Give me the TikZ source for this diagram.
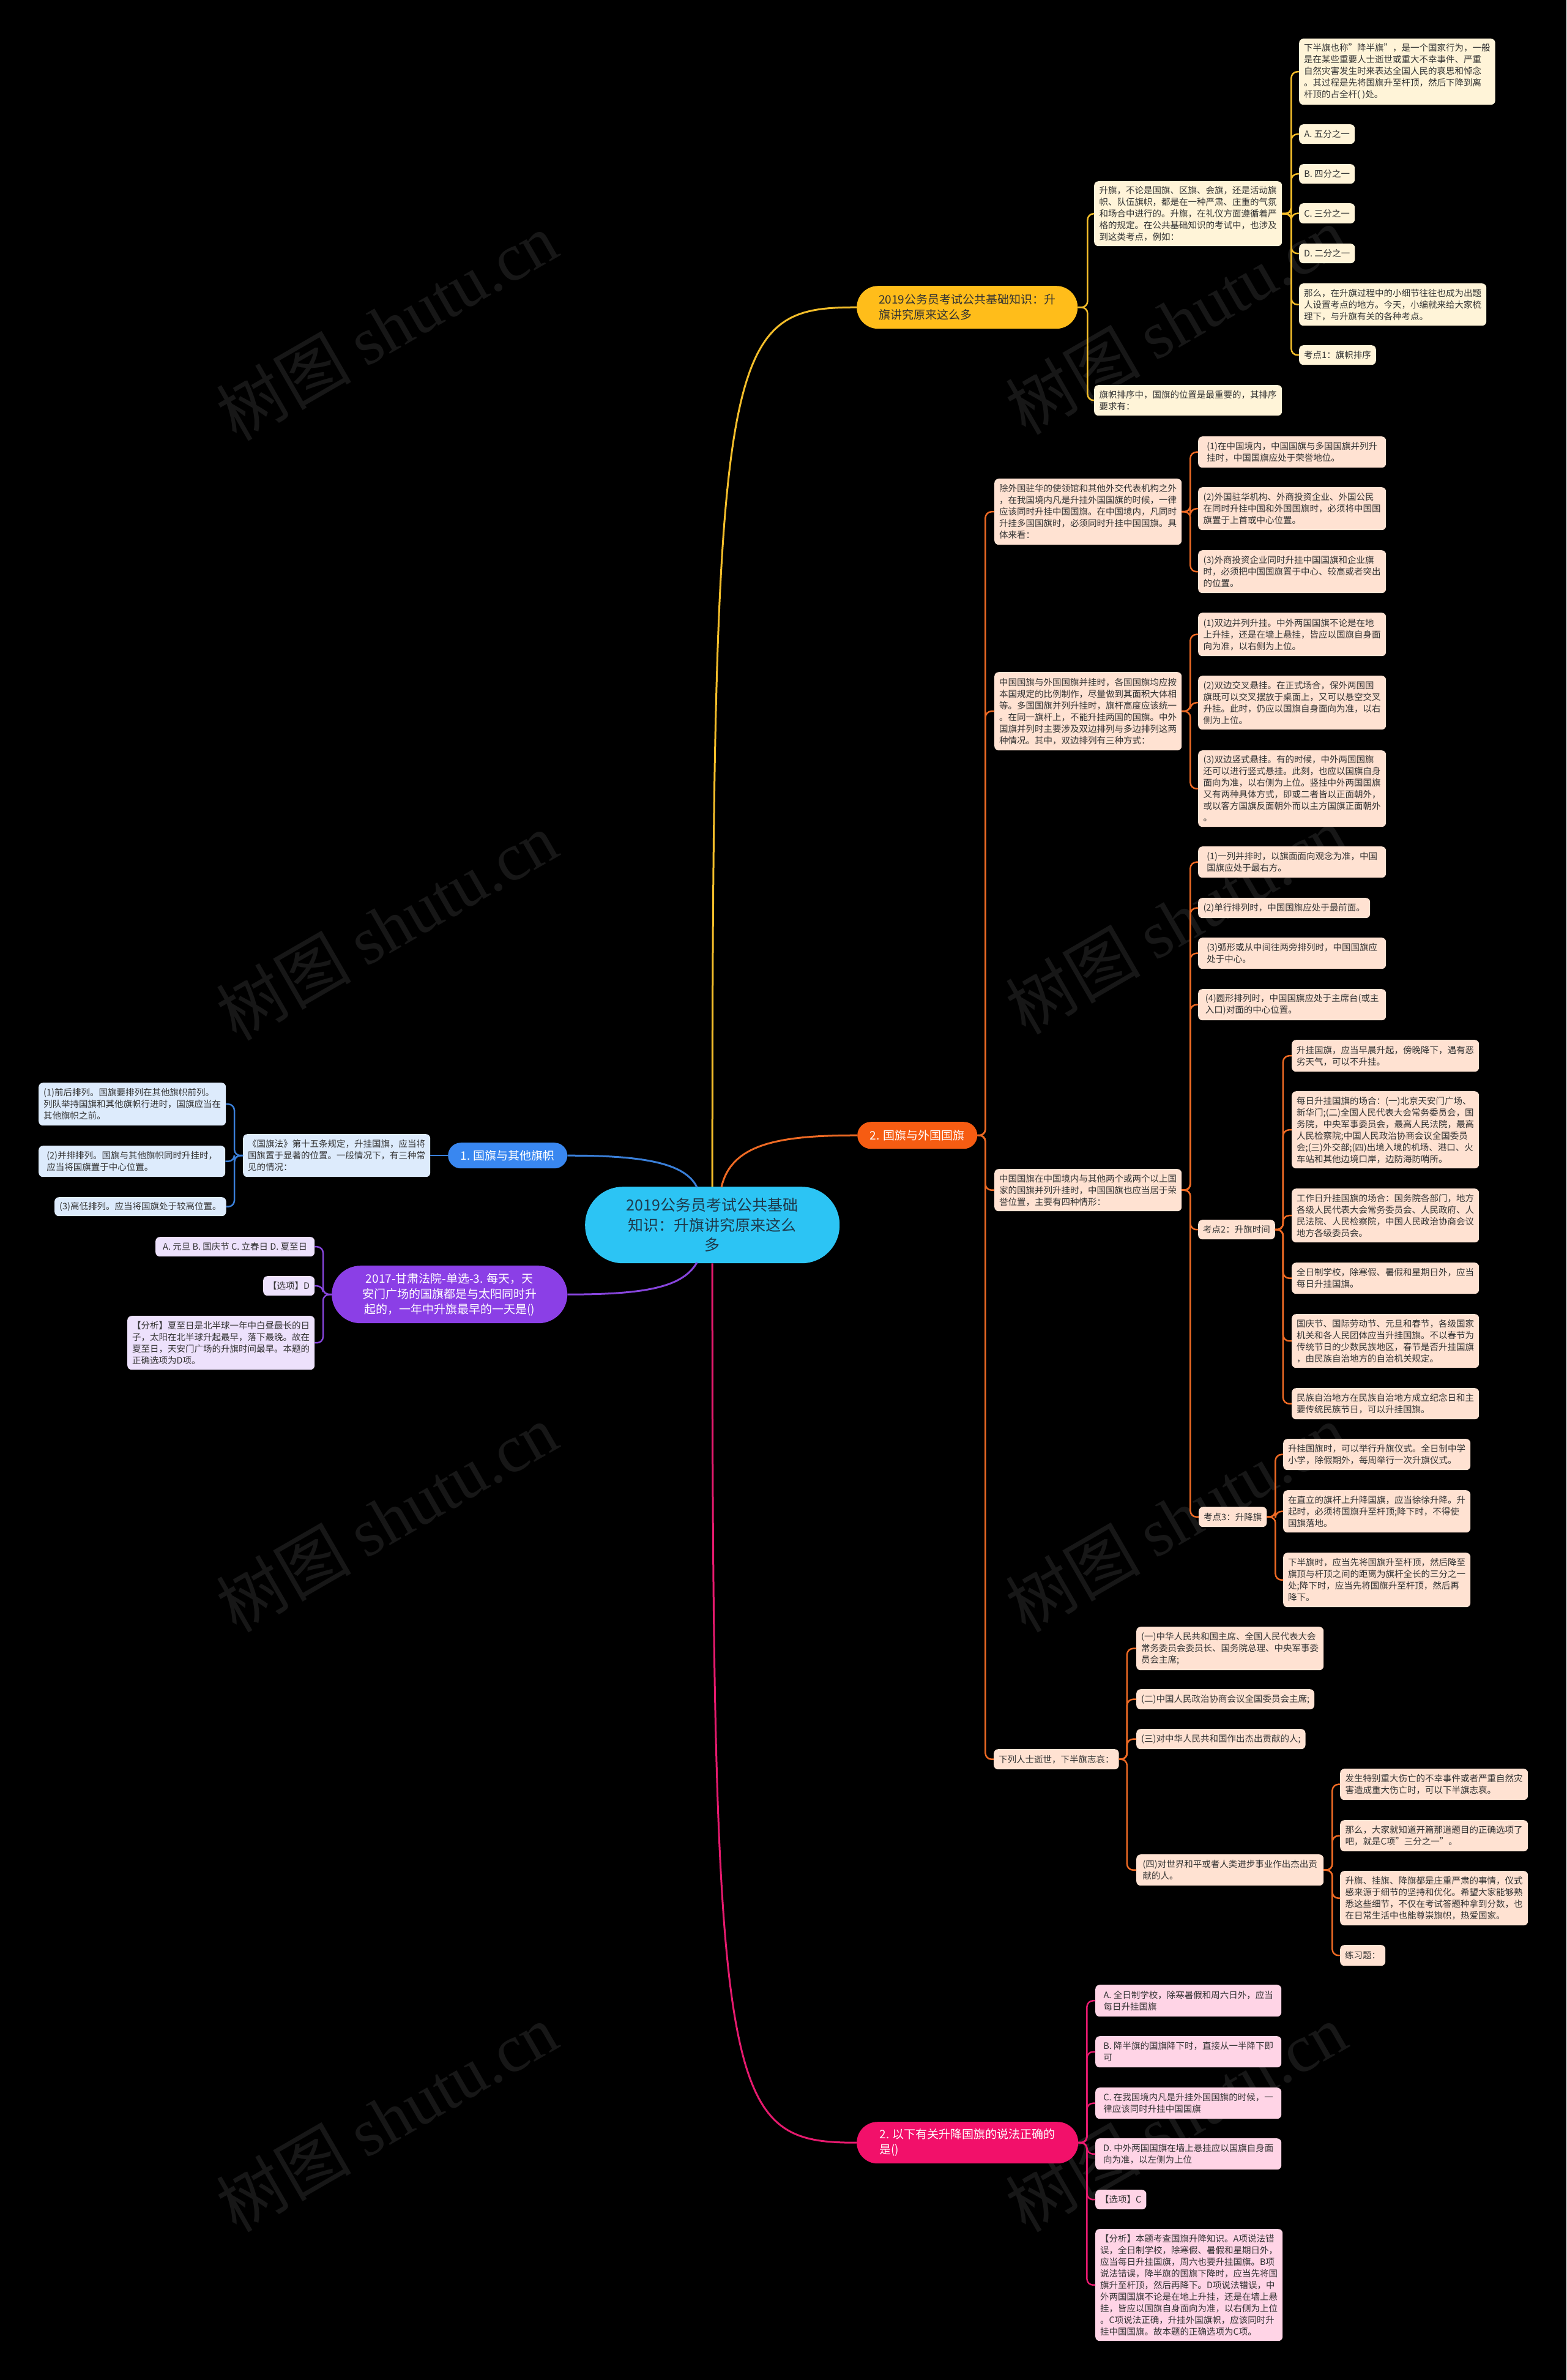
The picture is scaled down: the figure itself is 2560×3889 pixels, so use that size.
\documentclass[tikz,border=0pt]{standalone}
\usepackage{fontspec}
\setmainfont{Noto Sans CJK SC}
\newfontfamily\wmserif{Liberation Serif}
\definecolor{bg}{HTML}{000000}
\definecolor{txt}{HTML}{333333}
\definecolor{rootc}{HTML}{2CC4F4}
\definecolor{roottxt}{HTML}{1E3A4C}
\definecolor{ymain}{HTML}{FFBD1A}
\definecolor{yfill}{HTML}{FFF4D8}
\definecolor{yline}{HTML}{F4BE2A}
\definecolor{omain}{HTML}{F65C12}
\definecolor{ofill}{HTML}{FFE2D2}
\definecolor{oline}{HTML}{EE6A24}
\definecolor{pmain}{HTML}{F2106A}
\definecolor{pfill}{HTML}{FFD4E6}
\definecolor{pline}{HTML}{E61A6E}
\definecolor{bmain}{HTML}{3987F0}
\definecolor{bfill}{HTML}{DDEBFC}
\definecolor{bline}{HTML}{3A7FD8}
\definecolor{umain}{HTML}{8B3FE6}
\definecolor{ufill}{HTML}{EDE1FC}
\definecolor{uline}{HTML}{8745DC}
\definecolor{wmc}{HTML}{171717}
\begin{document}
\begin{tikzpicture}[x=1pt,y=-1pt,
  box/.style={rounded corners=7pt, inner xsep=8pt, inner ysep=0pt, align=left, anchor=north west, font=\fontsize{14.5}{19}\selectfont, text=txt},
  ybox/.style={box, fill=yfill},
  obox/.style={box, fill=ofill},
  pbox/.style={box, fill=pfill},
  bbox/.style={box, fill=bfill},
  ubox/.style={box, fill=ufill},
  branch/.style={inner xsep=10pt, inner ysep=0pt, anchor=north west, font=\fontsize{19}{25}\selectfont},
  yc/.style={draw=yline, line width=2.5pt, rounded corners=10pt},
  oc/.style={draw=oline, line width=2.5pt, rounded corners=10pt},
  pc/.style={draw=pline, line width=2.5pt, rounded corners=10pt},
  bc/.style={draw=bline, line width=2.5pt, rounded corners=10pt},
  uc/.style={draw=uline, line width=2.5pt, rounded corners=10pt},
  wm/.style={rotate=30, text=wmc, font=\fontsize{110}{110}\selectfont}
]
\fill[bg] (0,0) rectangle (2560,3889);
\useasboundingbox (0,0) rectangle (2560,3889);

% watermarks
\node[wm] (wm1) at (632,533) {树图 {\wmserif shutu.cn}};
\node[wm] (wm2) at (632,1513) {树图 {\wmserif shutu.cn}};
\node[wm] (wm3) at (632,2480) {树图 {\wmserif shutu.cn}};
\node[wm] (wm4) at (632,3460) {树图 {\wmserif shutu.cn}};
\node[wm] (wm5) at (1922,523) {树图 {\wmserif shutu.cn}};
\node[wm] (wm6) at (1922,1503) {树图 {\wmserif shutu.cn}};
\node[wm] (wm7) at (1922,2480) {树图 {\wmserif shutu.cn}};
\node[wm] (wm8) at (1922,3460) {树图 {\wmserif shutu.cn}};

% root
\node[fill=rootc, rounded corners=62pt, minimum width=416pt, minimum height=125pt, anchor=north west, align=center, text=roottxt, inner sep=0pt, font=\fontsize{25}{32.5}\selectfont] (root) at (956,1939) {2019公务员考试公共基础\\知识：升旗讲究原来这么\\多};

% branches
\node[branch, fill=ymain, rounded corners=35pt, minimum width=361pt, minimum height=70pt, align=left, text=txt] (yb) at (1400,467) {2019公务员考试公共基础知识：升\\旗讲究原来这么多};
\node[branch, fill=omain, rounded corners=22pt, minimum width=196pt, minimum height=44pt, text=white] (ob) at (1401,1833) {2. 国旗与外国国旗};
\node[branch, fill=pmain, rounded corners=34pt, minimum width=362pt, minimum height=68pt, align=left, text=white] (pb) at (1400,3467) {2. 以下有关升降国旗的说法正确的\\是()};
\node[branch, fill=bmain, rounded corners=21pt, minimum width=195pt, minimum height=42pt, text=white] (bb) at (732,1867) {1. 国旗与其他旗帜};
\node[branch, fill=umain, rounded corners=47pt, minimum width=385pt, minimum height=94pt, align=center, text=white] (ub) at (542,2068) {2017-甘肃法院-单选-3. 每天，天\\安门广场的国旗都是与太阳同时升\\起的，一年中升旗最早的一天是()};

% root connectors
\draw[draw=yline, line width=3pt] (root.north) .. controls (1164,560) and (1185,502) .. (yb.west);
\draw[draw=oline, line width=3pt] (1179,1940) .. controls (1195,1870) and (1270,1855) .. (ob.west);
\draw[draw=pline, line width=3pt] (root.south) .. controls (1164,3440) and (1185,3501) .. (pb.west);
\draw[draw=bline, line width=3pt] (1139,1940) .. controls (1120,1900) and (1050,1888) .. (bb.east);
\draw[draw=uline, line width=3pt] (1139,2063) .. controls (1115,2105) and (1050,2115) .. (ub.east);

% yellow children
\node[ybox, minimum width=307pt, minimum height=106pt] (yp1) at (1788,296) {升旗，不论是国旗、区旗、会旗，还是活动旗\\帜、队伍旗帜，都是在一种严肃、庄重的气氛\\和场合中进行的。升旗，在礼仪方面遵循着严\\格的规定。在公共基础知识的考试中，也涉及\\到这类考点，例如：};
\node[ybox, minimum width=307pt, minimum height=50pt] (yp2) at (1788,629) {旗帜排序中，国旗的位置是最重要的，其排序\\要求有：};
\node[ybox, minimum width=306pt, minimum height=108pt] (yq) at (2123,63) {下半旗也称"降半旗"，是一个国家行为，一般\\是在某些重要人士逝世或重大不幸事件、严重\\自然灾害发生时来表达全国人民的哀思和悼念\\。其过程是先将国旗升至杆顶，然后下降到离\\杆顶的占全杆( )处。};
\node[ybox, minimum width=91pt, minimum height=32pt] (ya) at (2123,203) {A. 五分之一};
\node[ybox, minimum width=91pt, minimum height=32pt] (ybo) at (2123,268) {B. 四分之一};
\node[ybox, minimum width=91pt, minimum height=33pt] (yc) at (2123,332) {C. 三分之一};
\node[ybox, minimum width=91pt, minimum height=32pt] (yd) at (2123,398) {D. 二分之一};
\node[ybox, minimum width=306pt, minimum height=69pt] (yn) at (2123,463) {那么，在升旗过程中的小细节往往也成为出题\\人设置考点的地方。今天，小编就来给大家梳\\理下，与升旗有关的各种考点。};
\node[ybox, minimum width=125pt, minimum height=32pt] (yk1) at (2123,564) {考点1：旗帜排序};
\foreach \c in {yp1,yp2} \draw[yc] (yb.east) -- ++(16,0) |- (\c.west);
\foreach \c in {yq,ya,ybo,yc,yd,yn,yk1} \draw[yc] (yp1.east) -- ++(15,0) |- (\c.west);

% orange children
\node[obox, minimum width=305pt, minimum height=108pt] (oq1) at (1625,782) {除外国驻华的使领馆和其他外交代表机构之外\\，在我国境内凡是升挂外国国旗的时候，一律\\应该同时升挂中国国旗。在中国境内，凡同时\\升挂多国国旗时，必须同时升挂中国国旗。具\\体来看：};
\node[obox, minimum width=305pt, minimum height=128pt] (oq2) at (1625,1098) {中国国旗与外国国旗并挂时，各国国旗均应按\\本国规定的比例制作，尽量做到其面积大体相\\等。多国国旗并列升挂时，旗杆高度应该统一\\。在同一旗杆上，不能升挂两国的国旗。中外\\国旗并列时主要涉及双边排列与多边排列这两\\种情况。其中，双边排列有三种方式：};
\node[obox, minimum width=305pt, minimum height=69pt] (oq3) at (1625,1910) {中国国旗在中国境内与其他两个或两个以上国\\家的国旗并列升挂时，中国国旗也应当居于荣\\誉位置，主要有四种情形：};
\node[obox, minimum width=204pt, minimum height=33pt] (oq4) at (1624,2858) {下列人士逝世，下半旗志哀：};
\foreach \c in {oq1,oq2,oq3,oq4} \draw[oc] (ob.east) -- ++(13,0) |- (\c.west);

\node[obox, minimum width=307pt, minimum height=51pt] (oq1a) at (1958,713) {(1)在中国境内，中国国旗与多国国旗并列升\\挂时，中国国旗应处于荣誉地位。};
\node[obox, minimum width=307pt, minimum height=70pt] (oq1b) at (1958,796) {(2)外国驻华机构、外商投资企业、外国公民\\在同时升挂中国和外国国旗时，必须将中国国\\旗置于上首或中心位置。};
\node[obox, minimum width=307pt, minimum height=70pt] (oq1c) at (1958,899) {(3)外商投资企业同时升挂中国国旗和企业旗\\时，必须把中国国旗置于中心、较高或者突出\\的位置。};
\foreach \c in {oq1a,oq1b,oq1c} \draw[oc] (oq1.east) -- ++(14,0) |- (\c.west);

\node[obox, minimum width=307pt, minimum height=71pt] (oq2a) at (1958,1001) {(1)双边并列升挂。中外两国国旗不论是在地\\上升挂，还是在墙上悬挂，皆应以国旗自身面\\向为准，以右侧为上位。};
\node[obox, minimum width=307pt, minimum height=88pt] (oq2b) at (1958,1104) {(2)双边交叉悬挂。在正式场合，保外两国国\\旗既可以交叉摆放于桌面上，又可以悬空交叉\\升挂。此时，仍应以国旗自身面向为准，以右\\侧为上位。};
\node[obox, minimum width=307pt, minimum height=125pt] (oq2c) at (1958,1226) {(3)双边竖式悬挂。有的时候，中外两国国旗\\还可以进行竖式悬挂。此刻，也应以国旗自身\\面向为准，以右侧为上位。竖挂中外两国国旗\\又有两种具体方式，即或二者皆以正面朝外，\\或以客方国旗反面朝外而以主方国旗正面朝外\\。};
\foreach \c in {oq2a,oq2b,oq2c} \draw[oc] (oq2.east) -- ++(14,0) |- (\c.west);

\node[obox, minimum width=307pt, minimum height=51pt] (oq3a) at (1958,1383) {(1)一列并排时，以旗面面向观念为准，中国\\国旗应处于最右方。};
\node[obox, minimum width=281pt, minimum height=33pt] (oq3b) at (1958,1467) {(2)单行排列时，中国国旗应处于最前面。};
\node[obox, minimum width=307pt, minimum height=51pt] (oq3c) at (1958,1532) {(3)弧形或从中间往两旁排列时，中国国旗应\\处于中心。};
\node[obox, minimum width=307pt, minimum height=51pt] (oq3d) at (1958,1616) {(4)圆形排列时，中国国旗应处于主席台(或主\\入口)对面的中心位置。};
\node[obox, minimum width=125pt, minimum height=32pt] (ok2) at (1958,1993) {考点2：升旗时间};
\node[obox, minimum width=109pt, minimum height=33pt] (ok3) at (1959,2462) {考点3：升降旗};
\foreach \c in {oq3a,oq3b,oq3c,oq3d,ok2,ok3} \draw[oc] (oq3.east) -- ++(14,0) |- (\c.west);

\node[obox, minimum width=306pt, minimum height=52pt] (k2a) at (2111,1699) {升挂国旗，应当早晨升起，傍晚降下，遇有恶\\劣天气，可以不升挂。};
\node[obox, minimum width=306pt, minimum height=126pt] (k2b) at (2111,1783) {每日升挂国旗的场合：(一)北京天安门广场、\\新华门;(二)全国人民代表大会常务委员会，国\\务院，中央军事委员会，最高人民法院，最高\\人民检察院;中国人民政治协商会议全国委员\\会;(三)外交部;(四)出境入境的机场、港口、火\\车站和其他边境口岸，边防海防哨所。};
\node[obox, minimum width=306pt, minimum height=88pt] (k2c) at (2111,1942) {工作日升挂国旗的场合：国务院各部门，地方\\各级人民代表大会常务委员会、人民政府、人\\民法院、人民检察院，中国人民政治协商会议\\地方各级委员会。};
\node[obox, minimum width=306pt, minimum height=51pt] (k2d) at (2111,2063) {全日制学校，除寒假、暑假和星期日外，应当\\每日升挂国旗。};
\node[obox, minimum width=306pt, minimum height=88pt] (k2e) at (2111,2147) {国庆节、国际劳动节、元旦和春节，各级国家\\机关和各人民团体应当升挂国旗。不以春节为\\传统节日的少数民族地区，春节是否升挂国旗\\，由民族自治地方的自治机关规定。};
\node[obox, minimum width=306pt, minimum height=51pt] (k2f) at (2111,2268) {民族自治地方在民族自治地方成立纪念日和主\\要传统民族节日，可以升挂国旗。};
\foreach \c in {k2a,k2b,k2c,k2d,k2e,k2f} \draw[oc] (ok2.east) -- ++(13,0) |- (\c.west);

\node[obox, minimum width=306pt, minimum height=51pt] (k3a) at (2097,2351) {升挂国旗时，可以举行升旗仪式。全日制中学\\小学，除假期外，每周举行一次升旗仪式。};
\node[obox, minimum width=306pt, minimum height=69pt] (k3b) at (2097,2435) {在直立的旗杆上升降国旗，应当徐徐升降。升\\起时，必须将国旗升至杆顶;降下时，不得使\\国旗落地。};
\node[obox, minimum width=306pt, minimum height=89pt] (k3c) at (2097,2537) {下半旗时，应当先将国旗升至杆顶，然后降至\\旗顶与杆顶之间的距离为旗杆全长的三分之一\\处;降下时，应当先将国旗升至杆顶，然后再\\降下。};
\foreach \c in {k3a,k3b,k3c} \draw[oc] (ok3.east) -- ++(14,0) |- (\c.west);

\node[obox, minimum width=306pt, minimum height=71pt] (q4a) at (1857,2658) {(一)中华人民共和国主席、全国人民代表大会\\常务委员会委员长、国务院总理、中央军事委\\员会主席;};
\node[obox, minimum width=290pt, minimum height=33pt] (q4b) at (1857,2760) {(二)中国人民政治协商会议全国委员会主席;};
\node[obox, minimum width=274pt, minimum height=33pt] (q4c) at (1857,2825) {(三)对中华人民共和国作出杰出贡献的人;};
\node[obox, minimum width=306pt, minimum height=51pt] (q4d) at (1857,3030) {(四)对世界和平或者人类进步事业作出杰出贡\\献的人。};
\foreach \c in {q4a,q4b,q4c,q4d} \draw[oc] (oq4.east) -- ++(13,0) |- (\c.west);

\node[obox, minimum width=307pt, minimum height=51pt] (d1) at (2190,2890) {发生特别重大伤亡的不幸事件或者严重自然灾\\害造成重大伤亡时，可以下半旗志哀。};
\node[obox, minimum width=307pt, minimum height=51pt] (d2) at (2190,2974) {那么，大家就知道开篇那道题目的正确选项了\\吧，就是C项"三分之一"。};
\node[obox, minimum width=307pt, minimum height=89pt] (d3) at (2190,3057) {升旗、挂旗、降旗都是庄重严肃的事情，仪式\\感来源于细节的坚持和优化。希望大家能够熟\\悉这些细节，不仅在考试答题种拿到分数，也\\在日常生活中也能尊崇旗帜，热爱国家。};
\node[obox, minimum width=72pt, minimum height=34pt] (d4) at (2190,3178) {练习题：};
\foreach \c in {d1,d2,d3,d4} \draw[oc] (q4d.east) -- ++(14,0) |- (\c.west);

% pink children
\node[pbox, minimum width=304pt, minimum height=52pt] (pa) at (1790,3243) {A. 全日制学校，除寒暑假和周六日外，应当\\每日升挂国旗};
\node[pbox, minimum width=304pt, minimum height=51pt] (pbo) at (1790,3327) {B. 降半旗的国旗降下时，直接从一半降下即\\可};
\node[pbox, minimum width=304pt, minimum height=51pt] (pcc) at (1790,3411) {C. 在我国境内凡是升挂外国国旗的时候，一\\律应该同时升挂中国国旗};
\node[pbox, minimum width=304pt, minimum height=51pt] (pd) at (1790,3494) {D. 中外两国国旗在墙上悬挂应以国旗自身面\\向为准，以左侧为上位};
\node[pbox, minimum width=81pt, minimum height=32pt] (pe) at (1790,3578) {【选项】C};
\node[pbox, minimum width=304pt, minimum height=183pt] (pf) at (1790,3642) {【分析】本题考查国旗升降知识。A项说法错\\误，全日制学校，除寒假、暑假和星期日外，\\应当每日升挂国旗，周六也要升挂国旗。B项\\说法错误，降半旗的国旗下降时，应当先将国\\旗升至杆顶，然后再降下。D项说法错误，中\\外两国国旗不论是在地上升挂，还是在墙上悬\\挂，皆应以国旗自身面向为准，以右侧为上位\\。C项说法正确，升挂外国旗帜，应该同时升\\挂中国国旗。故本题的正确选项为C项。};
\foreach \c in {pa,pbo,pcc,pd,pe,pf} \draw[pc] (pb.east) -- ++(14,0) |- (\c.west);

% blue children
\node[bbox, minimum width=306pt, minimum height=70pt] (blaw) at (397,1853) {《国旗法》第十五条规定，升挂国旗，应当将\\国旗置于显著的位置。一般情况下，有三种常\\见的情况：};
\node[bbox, minimum width=305pt, minimum height=70pt] (b1) at (63,1769) {(1)前后排列。国旗要排列在其他旗帜前列。\\列队举持国旗和其他旗帜行进时，国旗应当在\\其他旗帜之前。};
\node[bbox, minimum width=305pt, minimum height=51pt] (b2) at (63,1872) {(2)并排排列。国旗与其他旗帜同时升挂时，\\应当将国旗置于中心位置。};
\node[bbox, minimum width=279pt, minimum height=31pt] (b3) at (89,1956) {(3)高低排列。应当将国旗处于较高位置。};
\draw[bc] (bb.west) -- (blaw.east);
\foreach \c in {b1,b2,b3} \draw[bc] (blaw.west) -- ++(-14,0) |- (\c.east);

% purple children
\node[ubox, minimum width=260pt, minimum height=32pt] (ua) at (254,2021) {A. 元旦 B. 国庆节 C. 立春日 D. 夏至日};
\node[ubox, minimum width=84pt, minimum height=32pt] (ubx) at (430,2085) {【选项】D};
\node[ubox, minimum width=306pt, minimum height=88pt] (uc) at (208,2150) {【分析】夏至日是北半球一年中白昼最长的日\\子，太阳在北半球升起最早，落下最晚。故在\\夏至日，天安门广场的升旗时间最早。本题的\\正确选项为D项。};
\foreach \c in {ua,ubx,uc} \draw[uc] (ub.west) -- ++(-14,0) |- (\c.east);
\end{tikzpicture}
\end{document}
